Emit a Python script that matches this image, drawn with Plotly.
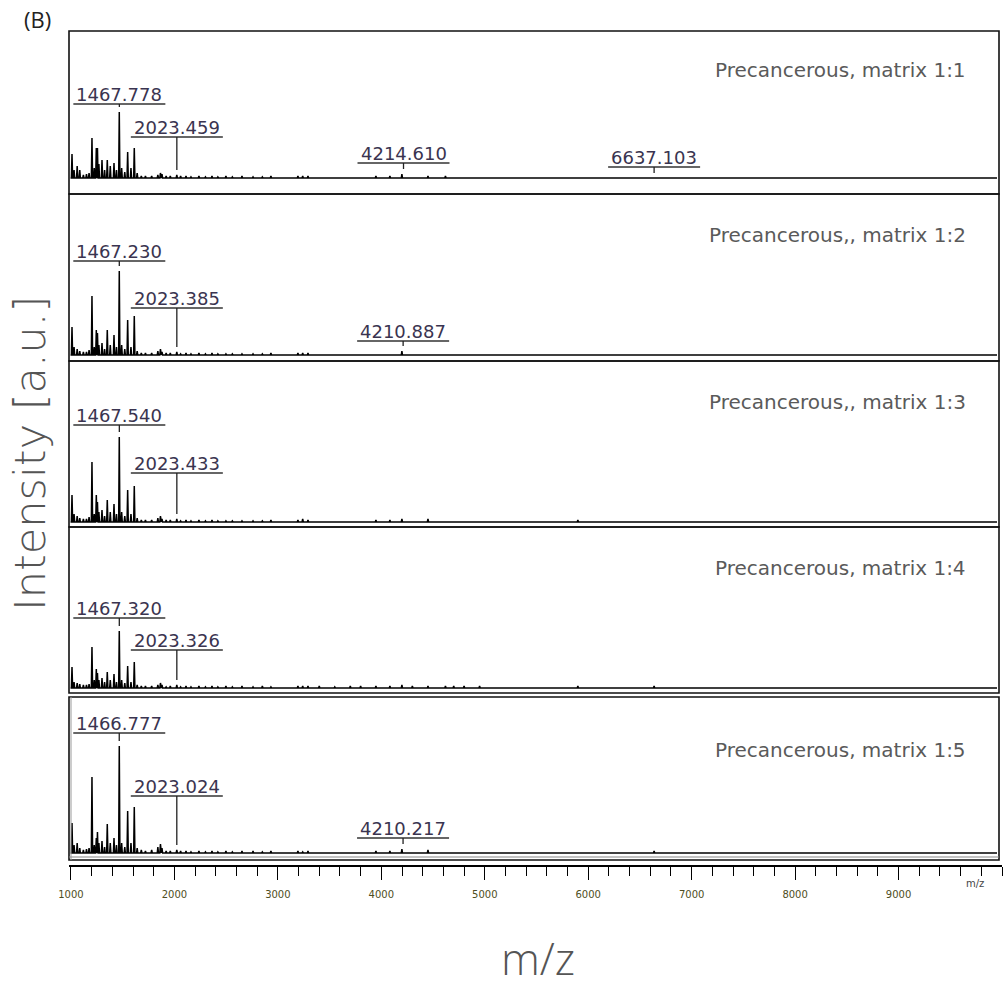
import plotly.graph_objects as go

# ---------------- data ----------------
peak_mz = [1010, 1030, 1060, 1085, 1120, 1150, 1175, 1203, 1225, 1245,
           1256, 1270, 1300, 1325, 1351, 1380, 1416, 1440, 1467, 1490,
           1520, 1548, 1580, 1612, 1640, 1680, 1720, 1780, 1840, 1865,
           1880, 1920, 1960, 2023, 2060, 2112, 2160, 2237, 2300, 2363,
           2420, 2498, 2560, 2653, 2760, 2850, 2933, 3194, 3240, 3291,
           3400, 3550, 3700, 3800, 3948, 4083, 4199, 4300, 4451, 4620,
           4700, 4800, 4950, 5900, 6637]

intensity_p1 = [24, 8, 12, 8, 3, 4, 5, 40, 10, 30,
                30, 14, 18, 8, 18, 12, 15, 8, 66, 10,
                6, 26, 10, 30, 5, 2, 2, 2, 3, 5,
                4, 2, 2, 3, 2, 2, 1, 2, 1, 2,
                1, 2, 1, 2, 1, 1, 2, 2, 2, 2,
                0, 0, 0, 0, 2, 2, 4, 0, 2, 2,
                0, 0, 0, 0, 0]
intensity_p2 = [28, 8, 6, 4, 3, 3, 5, 59, 8, 25,
                22, 10, 12, 6, 25, 10, 20, 8, 84, 10,
                6, 35, 8, 39, 4, 2, 2, 2, 4, 6,
                3, 2, 2, 3, 1, 2, 1, 2, 1, 2,
                1, 1, 1, 1, 1, 1, 2, 2, 2, 2,
                0, 0, 0, 0, 0, 0, 4, 0, 0, 0,
                0, 0, 0, 0, 0]
intensity_p3 = [27, 8, 6, 4, 3, 3, 5, 60, 8, 27,
                20, 10, 12, 6, 22, 10, 18, 8, 85, 10,
                6, 32, 8, 36, 4, 2, 2, 2, 4, 6,
                3, 2, 2, 3, 1, 2, 1, 2, 1, 2,
                1, 1, 1, 1, 1, 1, 2, 2, 3, 2,
                0, 0, 0, 0, 2, 2, 3, 0, 3, 0,
                0, 0, 0, 2, 0]
intensity_p4 = [21, 6, 5, 4, 3, 3, 4, 41, 8, 19,
                15, 8, 10, 6, 16, 8, 14, 6, 57, 8,
                5, 22, 6, 26, 3, 2, 2, 2, 3, 5,
                3, 1, 2, 3, 1, 2, 1, 2, 1, 2,
                1, 2, 1, 2, 1, 2, 1, 2, 2, 2,
                2, 1, 2, 2, 2, 2, 3, 2, 2, 2,
                2, 2, 2, 2, 2]
intensity_p5 = [30, 8, 10, 5, 3, 4, 5, 76, 8, 15,
                21, 10, 12, 6, 29, 10, 15, 8, 107, 10,
                6, 42, 10, 46, 5, 3, 2, 3, 6, 9,
                5, 2, 2, 3, 2, 2, 1, 2, 1, 2,
                1, 2, 1, 2, 2, 1, 2, 2, 1, 2,
                0, 0, 0, 0, 2, 2, 4, 0, 3, 0,
                0, 0, 0, 0, 2]

panel_titles = ["Precancerous, matrix 1:1", "Precancerous,, matrix 1:2",
                "Precancerous,, matrix 1:3", "Precancerous, matrix 1:4",
                "Precancerous, matrix 1:5"]

labels_p1 = ["1467.778", "2023.459", "4214.610", "6637.103"]
labels_p2 = ["1467.230", "2023.385", "4210.887"]
labels_p3 = ["1467.540", "2023.433"]
labels_p4 = ["1467.320", "2023.326"]
labels_p5 = ["1466.777", "2023.024", "4210.217"]

tick_values = [1000, 2000, 3000, 4000, 5000, 6000, 7000, 8000, 9000]
tick_labels = ["1000", "2000", "3000", "4000", "5000", "6000", "7000", "8000", "9000"]

# ---------------- layout geometry (pixels) ----------------
W, H = 1006, 1001
ML, MR, MT, MB = 69, 4, 31, 135
PW, PH = W - ML - MR, H - MT - MB
XMIN, XMAX = 981, 10000
UPX = (XMAX - XMIN) / PW  # m/z units per pixel


def px2x(px):
    return (px - ML) / PW


def py2y(py):
    return (H - MB - py) / PH


def px2data(px):
    return XMIN + (px - ML) * UPX


# (top, bottom, baseline) of each panel in pixels
panel_geom = [(31, 194, 178), (194, 361, 355), (361, 527, 522),
              (527, 693, 688), (697, 860, 853)]
title_y = [70, 235, 402, 568, 750]
label_levels = [[74, 41, 15, 11], [94, 47, 14], [97, 49], [70, 38], [120, 57, 15]]

intensities = [intensity_p1, intensity_p2, intensity_p3, intensity_p4, intensity_p5]
labels = [labels_p1, labels_p2, labels_p3, labels_p4, labels_p5]

fig = go.Figure()
shapes = []
annotations = []
HW = 6  # half base width of a peak (m/z)

for i, ints in enumerate(intensities):
    yname = "y" if i == 0 else f"y{i+1}"
    xs, ys = [px2data(70.5)], [0]
    for m, h in zip(peak_mz, ints):
        if h > 0:
            xs += [m - HW, m, m + HW]
            ys += [0, h, 0]
    xs.append(px2data(997))
    ys.append(0)
    fig.add_trace(go.Scatter(x=xs, y=ys, xaxis="x", yaxis=yname, mode="lines",
                             line=dict(color="black", width=1.5),
                             hoverinfo="skip", showlegend=False))
    top, bot, base = panel_geom[i]
    fig.layout["yaxis" if i == 0 else f"yaxis{i+1}"] = dict(
        domain=[py2y(bot), py2y(top)], range=[-(bot - base), base - top],
        visible=False, anchor="x", fixedrange=True)
    # frame
    shapes.append(dict(type="rect", xref="paper", yref="paper",
                       x0=0, x1=px2x(999), y0=py2y(bot), y1=py2y(top),
                       line=dict(color="#111", width=1.6), layer="above"))
    # panel title
    annotations.append(dict(text=panel_titles[i], xref="paper", yref="paper",
                            x=px2x(968), y=py2y(title_y[i]), xanchor="right",
                            yanchor="middle", showarrow=False,
                            font=dict(family="DejaVu Sans", size=20, color="#5a5a5a")))
    # peak labels
    for txt, lvl in zip(labels[i], label_levels[i]):
        m = float(txt)
        j = min(range(len(peak_mz)), key=lambda k: abs(peak_mz[k] - m))
        ph = ints[j]
        annotations.append(dict(text=txt, xref="x", yref=yname, x=m, y=lvl,
                                xanchor="center", yanchor="bottom", yshift=-3,
                                showarrow=False,
                                font=dict(family="DejaVu Sans", size=18, color="#3a3450")))
        shapes.append(dict(type="line", xref="x", yref=yname,
                           x0=m - 46 * UPX, x1=m + 46 * UPX, y0=lvl, y1=lvl,
                           line=dict(color="#333", width=1.5)))
        shapes.append(dict(type="line", xref="x", yref=yname,
                           x0=m, x1=m, y0=lvl, y1=ph + 5,
                           line=dict(color="#222", width=1.3)))

# extra lines of the bottom panel frame
shapes.append(dict(type="line", xref="paper", yref="paper", x0=0, x1=px2x(999),
                   y0=py2y(857), y1=py2y(857), line=dict(color="#888", width=1.2)))
shapes.append(dict(type="line", xref="paper", yref="paper", x0=px2x(71), x1=px2x(71),
                   y0=py2y(860), y1=py2y(697), line=dict(color="#999", width=1)))

minor_vals = [v for v in range(1000, 10001, 200) if v % 1000 != 0 or v == 10000]

fig.update_layout(
    width=W, height=H, margin=dict(l=ML, r=MR, t=MT, b=MB),
    plot_bgcolor="white", paper_bgcolor="white", showlegend=False,
    xaxis=dict(range=[XMIN, XMAX], anchor="free", position=0, domain=[0, 1],
               showline=True, linecolor="black", linewidth=1.5,
               showgrid=False, zeroline=False,
               tickmode="array", tickvals=tick_values, ticktext=tick_labels,
               ticks="outside", ticklen=13, tickwidth=1.3, tickcolor="black",
               ticklabelstandoff=6,
               minor=dict(tickmode="array", tickvals=minor_vals, ticks="outside",
                          ticklen=9, tickwidth=1.3, tickcolor="black", showgrid=False),
               tickfont=dict(family="DejaVu Sans", size=10, color="#4e4e22"),
               fixedrange=True),
    shapes=shapes,
)

annotations += [
    dict(text="(B)", xref="paper", yref="paper", x=px2x(37), y=py2y(19),
         xanchor="center", yanchor="middle", showarrow=False,
         font=dict(family="Open Sans", size=22, color="#222")),
    dict(text="Intensity [a.u.]", xref="paper", yref="paper", x=px2x(30), y=py2y(454),
         xanchor="center", yanchor="middle", showarrow=False, textangle=-90,
         font=dict(family="DejaVu Sans", size=43, color="#555", weight=300)),
    dict(text="m/z", xref="paper", yref="paper", x=px2x(538), y=py2y(958),
         xanchor="center", yanchor="middle", showarrow=False,
         font=dict(family="Open Sans", size=44, color="#555", weight=300)),
    dict(text="m/z", xref="paper", yref="paper", x=px2x(975), y=py2y(884),
         xanchor="center", yanchor="middle", showarrow=False,
         font=dict(family="DejaVu Sans", size=10, color="#444")),
]
fig.update_layout(annotations=annotations)

fig.write_html("out.html")
